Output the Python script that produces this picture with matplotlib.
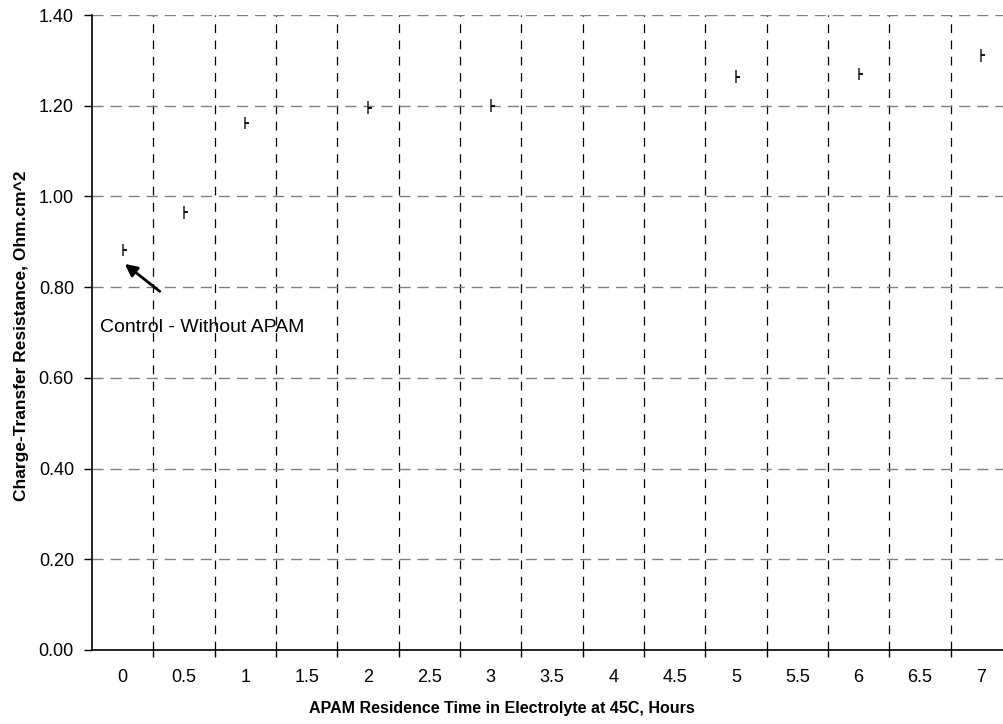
import numpy as np
import matplotlib.pyplot as plt
from matplotlib.ticker import FixedLocator, FormatStrFormatter

plt.rcParams['font.family'] = ['Liberation Sans', 'DejaVu Sans']

hours = ['0', '0.5', '1', '1.5', '2', '2.5', '3', '3.5',
         '4', '4.5', '5', '5.5', '6', '6.5', '7']
# charge-transfer resistance per residence time (blank = not measured)
resistance = [0.882, 0.965, 1.162, np.nan, 1.196, np.nan, 1.200, np.nan,
              np.nan, np.nan, 1.264, np.nan, 1.270, np.nan, 1.311]
spread = 0.014

fig = plt.figure(figsize=(10.04, 7.24), dpi=100)
# plot area runs a little past the right edge of the figure
ax = fig.add_axes([92 / 1004, 74 / 724, 920 / 1004, 635 / 724])

x = np.arange(len(hours))
y = np.array(resistance)
ax.errorbar(x, y, yerr=spread, fmt='none', ecolor='#222222', elinewidth=1.1,
            capsize=0, zorder=3)
ax.plot(x, y, linestyle='none', marker=1, markersize=3, markeredgewidth=1.3,
        color='black', zorder=3)

ax.set_xlim(-0.5, len(hours) - 0.5)
ax.set_ylim(0, 1.40)

ax.set_xticks(x)
ax.set_xticklabels(hours)
ax.xaxis.set_minor_locator(FixedLocator(np.arange(0.5, len(hours) - 0.5, 1)))
ax.tick_params(axis='x', which='major', length=0, pad=14, labelsize=13)
ax.tick_params(axis='x', which='minor', length=5, width=1, direction='out')
ax.grid(True, axis='x', which='minor', color='black', linestyle=(0, (7, 6)),
        linewidth=0.9)

ax.set_yticks(np.arange(0, 1.41, 0.2))
ax.yaxis.set_major_formatter(FormatStrFormatter('%.2f'))
ax.tick_params(axis='y', length=6, width=1, pad=7, labelsize=13)
ax.grid(True, axis='y', color='#808080', linestyle=(0, (8, 5)), linewidth=1.0)

ax.spines['top'].set_visible(False)
ax.spines['right'].set_visible(False)
ax.spines['left'].set_linewidth(1.2)
ax.spines['bottom'].set_linewidth(1.2)
ax.set_axisbelow(True)

fig.text(502 / 1004, 1 - 708 / 724,
         'APAM Residence Time in Electrolyte at 45C, Hours',
         fontsize=11.5, fontweight='bold', ha='center', va='center')
fig.text(22 / 1004, 1 - 336 / 724, 'Charge-Transfer Resistance, Ohm.cm^2',
         fontsize=12.5, fontweight='bold', rotation=90,
         ha='center', va='center')

ax.annotate('', xy=(0.0, 0.855), xytext=(0.64, 0.787),
            arrowprops=dict(arrowstyle='-|>', color='black', lw=2.0,
                            mutation_scale=18))
ax.text(-0.37, 0.71, 'Control - Without APAM', fontsize=14,
        ha='left', va='center')

fig.savefig('out.png', dpi=100)
